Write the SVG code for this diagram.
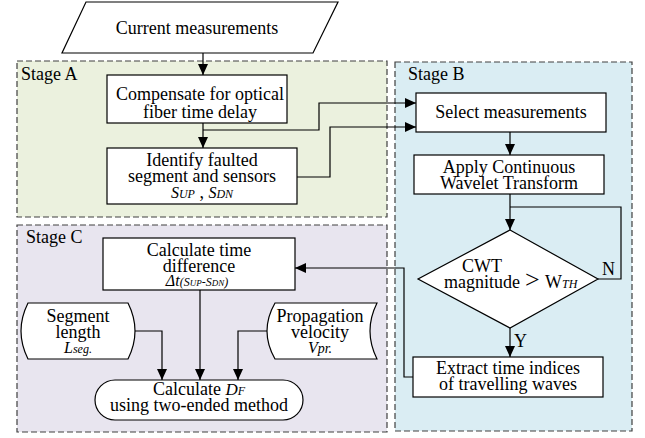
<svg xmlns="http://www.w3.org/2000/svg" width="645" height="438" viewBox="0 0 645 438">
<style>
  text { font-family: "Liberation Serif", "Times New Roman", "DejaVu Serif", serif; font-size: 18px; fill: #000; }
  .c { text-anchor: middle; }
  .i { font-style: italic; }
  .s { font-size: 12px; font-style: italic; }
  .stage { stroke: #404040; stroke-width: 1.2; stroke-dasharray: 6 3; }
  .box { fill: #fff; stroke: #000; stroke-width: 1.2; }
  .conn { fill: none; stroke: #000; stroke-width: 1.2; }
</style>
<defs>
  <marker id="arr" markerUnits="userSpaceOnUse" markerWidth="12" markerHeight="10" refX="11" refY="5" orient="auto">
    <path d="M0,0 L11,5 L0,10 Z" fill="#000"/>
  </marker>
</defs>

<g id="stageA">
  <rect class="stage" x="17" y="61" width="370" height="156" fill="#ebf1de"/>
  <text x="21" y="80">Stage A</text>
</g>
<g id="stageB">
  <rect class="stage" x="395" y="62" width="237" height="369" fill="#daedf3"/>
  <text x="408" y="80">Stage B</text>
</g>
<g id="stageC">
  <rect class="stage" x="17" y="225" width="370" height="207" fill="#e8e5ef"/>
  <text x="26" y="243">Stage C</text>
</g>

<g id="connectors">
  <path class="conn" d="M203,53 V75" marker-end="url(#arr)"/>
  <path class="conn" d="M203,123 V148" marker-end="url(#arr)"/>
  <path class="conn" d="M203,130 H319 V103 H416" marker-end="url(#arr)"/>
  <path class="conn" d="M297,177 H330 V127 H416" marker-end="url(#arr)"/>
  <path class="conn" d="M510,132 V155" marker-end="url(#arr)"/>
  <path class="conn" d="M510,194 V230" marker-end="url(#arr)"/>
  <path class="conn" d="M598,279 H621 V207 H510"/>
  <path class="conn" d="M510,328 V357" marker-end="url(#arr)"/>
  <path class="conn" d="M413,377 H404 V268 H295" marker-end="url(#arr)"/>
  <path class="conn" d="M135,331 H162 V380" marker-end="url(#arr)"/>
  <path class="conn" d="M200,290 V380" marker-end="url(#arr)"/>
  <path class="conn" d="M267,331 H238 V380" marker-end="url(#arr)"/>
  <text x="514" y="347">Y</text>
  <text x="602" y="275">N</text>
</g>

<g id="current">
  <path class="box" d="M86,2 H338 L313,53 H62 Z"/>
  <text class="c" x="197" y="34">Current measurements</text>
</g>
<g id="compensate">
  <rect class="box" x="107" y="75" width="180" height="48"/>
  <text class="c"><tspan x="200" y="100">Compensate for optical</tspan><tspan x="200" y="118">fiber time delay</tspan></text>
</g>
<g id="identify">
  <rect class="box" x="107" y="148" width="190" height="56"/>
  <text class="c"><tspan x="202" y="166">Identify faulted</tspan><tspan x="202" y="182">segment and sensors</tspan><tspan x="202" y="198"><tspan class="i" style="font-size:16px">S</tspan><tspan class="s">UP</tspan> , <tspan class="i" style="font-size:16px">S</tspan><tspan class="s">DN</tspan></tspan></text>
</g>
<g id="select">
  <rect class="box" x="416" y="93" width="190" height="39"/>
  <text class="c" x="511" y="118">Select measurements</text>
</g>
<g id="apply">
  <rect class="box" x="414" y="155" width="190" height="39"/>
  <text class="c"><tspan x="509" y="173">Apply Continuous</tspan><tspan x="509" y="189">Wavelet Transform</tspan></text>
</g>
<g id="decision">
  <path class="box" d="M510,230 L598,279 L510,328 L418,279 Z"/>
  <text class="c"><tspan x="482" y="272">CWT</tspan><tspan x="482" y="288">magnitude</tspan></text>
  <text x="525" y="288" style="font-size:26px">&gt;</text>
  <text x="545" y="288">W<tspan class="s">TH</tspan></text>
</g>
<g id="extract">
  <rect class="box" x="413" y="357" width="190" height="40"/>
  <text class="c"><tspan x="508" y="374">Extract time indices</tspan><tspan x="508" y="390">of travelling waves</tspan></text>
</g>
<g id="timediff">
  <rect class="box" x="103" y="238" width="192" height="52"/>
  <text class="c"><tspan x="199" y="256">Calculate time</tspan><tspan x="199" y="272">difference</tspan><tspan x="197" y="286"><tspan class="i" style="font-size:16px">Δt</tspan><tspan class="i" style="font-size:12px">(S</tspan><tspan class="i" style="font-size:9px">UP</tspan><tspan class="i" style="font-size:12px">-S</tspan><tspan class="i" style="font-size:9px">DN</tspan><tspan class="i" style="font-size:12px">)</tspan></tspan></text>
</g>
<g id="segment">
  <path class="box" d="M28,303 H128 Q142,331 128,359 H28 Q14,331 28,303 Z"/>
  <text class="c"><tspan x="78" y="322">Segment</tspan><tspan x="78" y="338">length</tspan><tspan x="78" y="353"><tspan class="i" style="font-size:16px">L</tspan><tspan class="s">seg.</tspan></tspan></text>
</g>
<g id="propagation">
  <path class="box" d="M275,303 H377 Q363,331 377,359 H275 Q259,331 275,303 Z"/>
  <text class="c"><tspan x="320" y="322">Propagation</tspan><tspan x="320" y="338">velocity</tspan><tspan x="320" y="353"><tspan class="i" style="font-size:16px">V</tspan><tspan class="i" style="font-size:14px">pr.</tspan></tspan></text>
</g>
<g id="calcDF">
  <rect class="box" x="95" y="380" width="208" height="40" rx="20" ry="20"/>
  <text class="c"><tspan x="199" y="395">Calculate  <tspan class="i" style="font-size:17px">D</tspan><tspan class="s">F</tspan></tspan><tspan x="199" y="411">using two-ended method</tspan></text>
</g>
</svg>
